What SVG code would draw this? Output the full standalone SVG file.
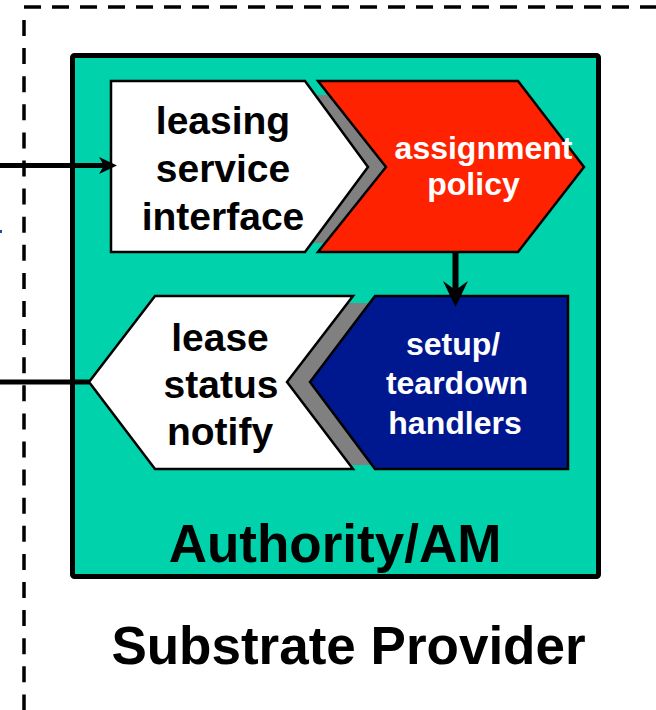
<svg xmlns="http://www.w3.org/2000/svg" width="656" height="710" viewBox="0 0 656 710">
<style>
.t{font-family:"Liberation Sans",Arial,sans-serif;font-weight:bold;text-anchor:middle}
.k{fill:#000}
.w{fill:#fff}
.shape{stroke:#000;stroke-width:2.5;stroke-linejoin:miter}
.shadow{fill:#808080}
.dash{fill:none;stroke:#000;stroke-width:3.5}
.conn{fill:none;stroke:#000}
</style>
<rect width="656" height="710" fill="#fff"/>
<g id="substrate-provider">
<line class="dash" x1="24" y1="7" x2="656" y2="7" stroke-dasharray="17 11"/>
<line class="dash" x1="24" y1="20" x2="24" y2="710" stroke-dasharray="16 12.1"/>
<text class="t k" x="348.5" y="664" font-size="53">Substrate Provider</text>
</g>
<rect x="0" y="230" width="2" height="3" fill="#1f4e9f"/>
<g id="authority">
<rect x="72.5" y="55.5" width="526" height="521" rx="2" fill="#00d2ab" stroke="#000" stroke-width="5"/>
<text class="t k" x="335" y="562" font-size="53">Authority/AM</text>
</g>
<polygon class="shadow" points="300,95 335,95 395,167 335,243 300,243"/>
<polygon class="shadow" points="340,303 390,303 325,382 390,465 340,465 270,382"/>
<g id="leasing-service-interface">
<polygon class="shape" fill="#fff" points="111,81 305,81 368,167 305,252 111,252"/>
<text class="t k" font-size="39"><tspan x="223" y="134">leasing</tspan><tspan x="223" y="181.5">service</tspan><tspan x="223" y="229.5">interface</tspan></text>
</g>
<g id="assignment-policy">
<polygon class="shape" fill="#ff2200" points="318,81 518,81 584,167 518,252 318,252 386,167"/>
<text class="t w" font-size="32"><tspan x="483.5" y="159">assignment</tspan><tspan x="473.5" y="195">policy</tspan></text>
</g>
<g id="lease-status-notify">
<polygon class="shape" fill="#fff" points="155,296 353,296 287,382 353,469 155,469 89,382"/>
<text class="t k" font-size="39"><tspan x="220" y="350.5">lease</tspan><tspan x="221" y="398">status</tspan><tspan x="220" y="445">notify</tspan></text>
</g>
<g id="setup-teardown-handlers">
<polygon class="shape" fill="#00188f" points="375,296 568,296 568,469 375,469 310,382"/>
<text class="t w" font-size="32"><tspan x="453" y="355">setup/</tspan><tspan x="457" y="393.5">teardown</tspan><tspan x="455" y="433.5">handlers</tspan></text>
</g>
<g id="connectors">
<line class="conn" x1="0" y1="165.5" x2="106" y2="165.5" stroke-width="5"/>
<path d="M117,165.5 L99,157 L104,165.5 L99,174 Z" fill="#000"/>
<line class="conn" x1="0" y1="382" x2="89" y2="382" stroke-width="5"/>
<line class="conn" x1="455.5" y1="253" x2="455.5" y2="292" stroke-width="6"/>
<path d="M455.5,307 L443,281 L455.5,290 L468,281 Z" fill="#000"/>
</g>
</svg>
